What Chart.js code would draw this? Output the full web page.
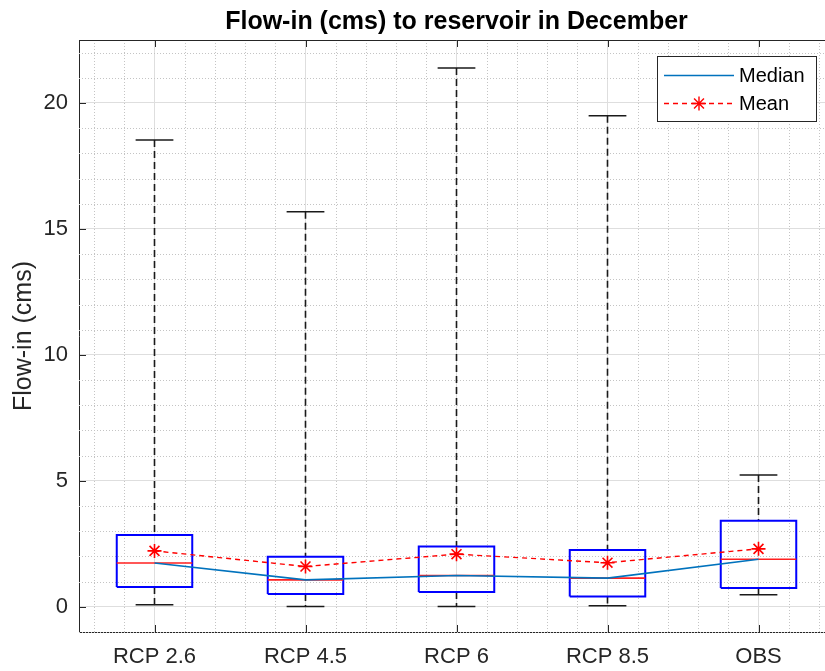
<!DOCTYPE html>
<html><head><meta charset="utf-8">
<script src="https://cdn.jsdelivr.net/npm/chart.js@4/dist/chart.umd.min.js"></script>
<style>html,body{margin:0;padding:0;background:#fff;overflow:hidden;}#wrap{position:absolute;left:0;top:0;width:834px;height:671px;}</style>
</head><body><div id="wrap"><canvas id="c" width="834" height="671"></canvas></div>
<script>
const categories = ['RCP 2.6','RCP 4.5','RCP 6','RCP 8.5','OBS'];
const whiskerLow  = [0.08, 0.01, 0.01, 0.04, 0.48];
const q1          = [0.79, 0.51, 0.59, 0.41, 0.75];
const medians     = [1.74, 1.07, 1.24, 1.14, 1.89];
const q3          = [2.85, 1.99, 2.39, 2.26, 3.42];
const whiskerHigh = [18.53, 15.68, 21.39, 19.49, 5.23];
const means       = [2.22, 1.60, 2.09, 1.75, 2.30];
const yTicks      = [0, 5, 10, 15, 20];

const FONT = "'Liberation Sans', Arial, Helvetica, sans-serif";
const AX = '#262626';
const BOX_HALF = 0.25, CAP_HALF = 0.125;
const pos = i => i + 1;
const gap = i => ({x: pos(i), y: null});

const whiskerPts = [], capPts = [], boxPts = [], boxMedPts = [];
categories.forEach((c, i) => {
  const x = pos(i);
  whiskerPts.push({x, y: whiskerHigh[i]}, {x, y: q3[i]}, gap(i), {x, y: q1[i]}, {x, y: whiskerLow[i]}, gap(i));
  capPts.push({x: x - CAP_HALF, y: whiskerHigh[i]}, {x: x + CAP_HALF, y: whiskerHigh[i]}, gap(i),
              {x: x - CAP_HALF, y: whiskerLow[i]}, {x: x + CAP_HALF, y: whiskerLow[i]}, gap(i));
  boxPts.push({x: x - BOX_HALF, y: q1[i]}, {x: x + BOX_HALF, y: q1[i]}, {x: x + BOX_HALF, y: q3[i]},
              {x: x - BOX_HALF, y: q3[i]}, {x: x - BOX_HALF, y: q1[i]}, gap(i));
  boxMedPts.push({x: x - BOX_HALF, y: medians[i]}, {x: x + BOX_HALF, y: medians[i]}, gap(i));
});

const minorGridPlugin = {
  id: 'minorGrid',
  beforeDatasetsDraw(chart) {
    const {ctx, chartArea: a, scales: {x, y}} = chart;
    ctx.save();
    ctx.strokeStyle = '#c4c4c4'; ctx.lineWidth = 1; ctx.setLineDash([1, 2]);
    for (let k = Math.ceil(x.min * 5 + 1e-9); k / 5 <= x.max - 1e-9; k++) {
      if (k % 5 === 0) continue;
      const px = Math.round(x.getPixelForValue(k / 5)) + 0.5;
      ctx.beginPath(); ctx.moveTo(px, a.top); ctx.lineTo(px, a.bottom); ctx.stroke();
    }
    for (let v = Math.ceil(y.min); v <= y.max + 1e-9; v += 1) {
      if (v % 5 === 0) continue;
      const py = Math.round(y.getPixelForValue(v)) + 0.5;
      ctx.beginPath(); ctx.moveTo(a.left, py); ctx.lineTo(a.right, py); ctx.stroke();
    }
    ctx.restore();
  },
  afterDatasetsDraw(chart) {
    const {ctx, chartArea: a, scales: {x, y}} = chart;
    const L = 7;
    ctx.save();
    ctx.strokeStyle = AX; ctx.lineWidth = 1;
    ctx.beginPath(); ctx.moveTo(a.left, a.top + 0.5); ctx.lineTo(a.right, a.top + 0.5); ctx.stroke();
    x.ticks.forEach(t => {
      const px = Math.round(x.getPixelForValue(t.value)) + 0.5;
      ctx.beginPath(); ctx.moveTo(px, a.bottom); ctx.lineTo(px, a.bottom - L); ctx.stroke();
      ctx.beginPath(); ctx.moveTo(px, a.top); ctx.lineTo(px, a.top + L); ctx.stroke();
    });
    y.ticks.forEach(t => {
      const py = Math.round(y.getPixelForValue(t.value)) + 0.5;
      ctx.beginPath(); ctx.moveTo(a.left, py); ctx.lineTo(a.left + L, py); ctx.stroke();
    });
    ctx.restore();
  }
};

const legendPlugin = {
  id: 'boxLegend',
  afterDraw(chart) {
    const {ctx, chartArea: a} = chart;
    const items = chart.data.datasets.filter(d => d.legendRank).sort((p, q) => p.legendRank - q.legendRank);
    const w = 159, h = 65;
    const left = a.right - 18 - w, top = a.top + 16;
    ctx.save();
    ctx.fillStyle = '#fff'; ctx.fillRect(left, top, w, h);
    ctx.strokeStyle = AX; ctx.lineWidth = 1; ctx.setLineDash([]);
    ctx.strokeRect(Math.round(left) + 0.5, Math.round(top) + 0.5, w, h);
    items.forEach((d, k) => {
      const yy = top + 19.5 + k * 28;
      ctx.strokeStyle = d.borderColor; ctx.lineWidth = d.borderWidth;
      ctx.setLineDash(d.borderDash || []);
      ctx.beginPath(); ctx.moveTo(left + 7, yy); ctx.lineTo(left + 77, yy); ctx.stroke();
      ctx.setLineDash([]);
      if (d.pointRadius > 0) {
        ctx.strokeStyle = d.pointBorderColor;
        Chart.helpers.drawPoint(ctx, {pointStyle: d.pointStyle, radius: d.pointRadius, borderWidth: d.pointBorderWidth, rotation: 0}, left + 42, yy);
      }
      ctx.fillStyle = '#000'; ctx.font = '20px ' + FONT; ctx.textBaseline = 'middle'; ctx.textAlign = 'left';
      ctx.fillText(d.label, left + 82, yy + 1);
    });
    ctx.restore();
  }
};

new Chart(document.getElementById('c'), {
  type: 'line',
  data: {
    datasets: [
      {label: 'Mean', legendRank: 2, data: means.map((m, i) => ({x: pos(i), y: m})),
       borderColor: '#ff0000', backgroundColor: '#ff0000', borderWidth: 1.4, borderDash: [5, 4],
       pointStyle: 'star', pointRadius: 7, pointBorderColor: '#ff0000', pointBorderWidth: 1.6, order: 1},
      {label: 'Median', legendRank: 1, data: medians.map((m, i) => ({x: pos(i), y: m})),
       borderColor: '#0072BD', borderWidth: 1.6, pointRadius: 0, order: 2},
      {label: 'boxMedian', data: boxMedPts, borderColor: '#ff2020', borderWidth: 1.6, pointRadius: 0, order: 3},
      {label: 'box', data: boxPts, borderColor: '#0000ff', borderWidth: 2, pointRadius: 0, order: 4},
      {label: 'caps', data: capPts, borderColor: '#1a1a1a', borderWidth: 1.5, pointRadius: 0, order: 5},
      {label: 'whiskers', data: whiskerPts, borderColor: '#1a1a1a', borderWidth: 1.6, borderDash: [7, 4], pointRadius: 0, order: 6}
    ]
  },
  options: {
    responsive: false, animation: false, events: [],
    layout: {padding: 0, autoPadding: false},
    datasets: {line: {spanGaps: false, tension: 0, fill: false}},
    plugins: {
      legend: {display: false}, tooltip: {enabled: false},
      title: {display: true, text: 'Flow-in (cms) to reservoir in December', fullSize: false,
              color: '#000', font: {size: 25, weight: 'bold', family: FONT}, padding: {top: 7, bottom: 3}}
    },
    scales: {
      x: {type: 'linear', min: 0.5, max: 5.5, offset: false,
          afterBuildTicks: s => { s.ticks = categories.map((c, i) => ({value: pos(i)})); },
          afterFit: s => { s.height = 39; },
          ticks: {callback: v => categories[v - 1], color: AX, font: {size: 22, family: FONT}, padding: 12, maxRotation: 0, autoSkip: false},
          grid: {color: '#dedede', lineWidth: 1, drawTicks: false},
          border: {color: AX, width: 1}},
      y: {type: 'linear', min: -1, max: 22.5,
          afterBuildTicks: s => { s.ticks = yTicks.map(v => ({value: v})); },
          afterFit: s => { s.width = 79; },
          ticks: {color: AX, font: {size: 22, family: FONT}, padding: 11},
          grid: {color: '#dedede', lineWidth: 1, drawTicks: false},
          border: {color: AX, width: 1},
          title: {display: true, text: 'Flow-in (cms)', color: AX, font: {size: 25, family: FONT}, padding: {top: 9, bottom: 0}}}
    }
  },
  plugins: [minorGridPlugin, legendPlugin]
});
</script></body></html>
